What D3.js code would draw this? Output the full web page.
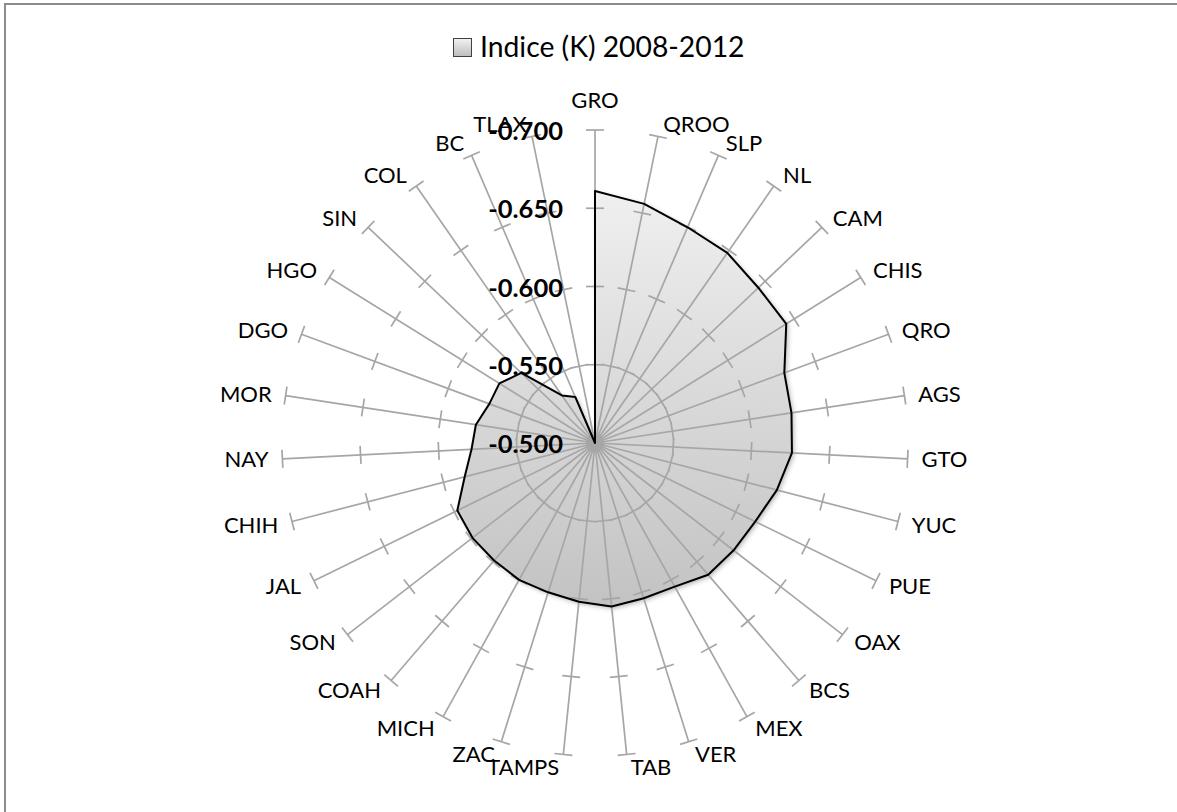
<!DOCTYPE html>
<html>
<head>
<meta charset="utf-8">
<script src="https://cdn.jsdelivr.net/npm/d3@7"></script>
<style>
  body { margin: 0; background: #fff; }
  svg { display: block; font-family: Lato, "Open Sans", sans-serif; }
</style>
</head>
<body>
<svg id="chart" width="1177" height="812"></svg>
<script>
// States, clockwise from the top
const categories = ["GRO","QROO","SLP","NL","CAM","CHIS","QRO","AGS","GTO","YUC","PUE","OAX","BCS",
  "MEX","VER","TAB","TAMPS","ZAC","MICH","COAH","SON","JAL","CHIH","NAY","MOR","DGO","HGO","SIN",
  "COL","BC","TLAX"];
// Indice (K) 2008-2012
const values = [-0.661,-0.656,-0.650,-0.648,-0.644,-0.644,-0.629,-0.627,-0.626,-0.620,-0.614,-0.612,
  -0.611,-0.605,-0.604,-0.605,-0.602,-0.600,-0.600,-0.599,-0.599,-0.598,-0.586,-0.579,-0.577,-0.572,
  -0.572,-0.565,-0.537,-0.532,-0.500];
const tickValues = [-0.500, -0.550, -0.600, -0.650, -0.700];
const tickLabels = ["-0.500", "-0.550", "-0.600", "-0.650", "-0.700"];
const seriesName = "Indice (K) 2008-2012";

const cx = 595, cy = 443, R = 313;
const n = categories.length;

const svg = d3.select("#chart");
const defs = svg.append("defs");

// vertical grey fill for the area (coordinates relative to the plot centre)
const grad = defs.append("linearGradient")
  .attr("id", "areaFill").attr("gradientUnits", "userSpaceOnUse")
  .attr("x1", 0).attr("y1", -255).attr("x2", 0).attr("y2", 168);
grad.append("stop").attr("offset", "0%").attr("stop-color", "#f0f0f0");
grad.append("stop").attr("offset", "100%").attr("stop-color", "#c2c2c2");

const keyGrad = defs.append("linearGradient")
  .attr("id", "keyFill").attr("x1", 0).attr("y1", 0).attr("x2", 0).attr("y2", 1);
keyGrad.append("stop").attr("offset", "0%").attr("stop-color", "#f2f2f2");
keyGrad.append("stop").attr("offset", "100%").attr("stop-color", "#bdbdbd");

const shadow = defs.append("filter").attr("id", "softShadow")
  .attr("x", "-10%").attr("y", "-10%").attr("width", "130%").attr("height", "130%");
shadow.append("feDropShadow").attr("dx", 2).attr("dy", 2).attr("stdDeviation", 2.5)
  .attr("flood-color", "#000").attr("flood-opacity", 0.3);

// chart frame
svg.append("rect")
  .attr("x", 5).attr("y", 4).attr("width", 1300).attr("height", 900)
  .attr("fill", "none").attr("stroke", "#8c8c8c").attr("stroke-width", 2);

// scales
const angle = d3.scaleLinear().domain([0, n]).range([0, 2 * Math.PI]);
const r = d3.scaleLinear().domain([-0.5, -0.7]).range([0, R]);

const g = svg.append("g").attr("transform", `translate(${cx},${cy})`);

// filled area
const radial = d3.lineRadial()
  .angle((d, i) => angle(i))
  .radius(d => r(d))
  .curve(d3.curveLinearClosed);

g.append("path")
  .datum(values)
  .attr("d", radial)
  .attr("fill", "url(#areaFill)")
  .attr("filter", "url(#softShadow)");

// spokes with tick marks
const axisColor = "#a6a6a6";
const spokes = g.append("g").attr("class", "spokes");
categories.forEach((c, i) => {
  const a = angle(i);
  const end = d3.pointRadial(a, R);
  spokes.append("line")
    .attr("x1", 0).attr("y1", 0).attr("x2", end[0]).attr("y2", end[1])
    .attr("stroke", axisColor).attr("stroke-width", 1.7);
  const px = Math.cos(a), py = Math.sin(a);
  tickValues.forEach(t => {
    const p = d3.pointRadial(a, r(t));
    spokes.append("line")
      .attr("x1", p[0] - 9 * px).attr("y1", p[1] - 9 * py)
      .attr("x2", p[0] + 9 * px).attr("y2", p[1] + 9 * py)
      .attr("stroke", axisColor).attr("stroke-width", 1.7);
  });
});

// outline of the area
g.append("path")
  .datum(values)
  .attr("d", radial)
  .attr("fill", "none")
  .attr("stroke", "#000")
  .attr("stroke-width", 2)
  .attr("stroke-linejoin", "round");

// category labels
const catSize = 22;
const catCap = 0.72 * catSize;
g.append("g").selectAll("text")
  .data(categories)
  .join("text")
  .attr("font-size", catSize)
  .attr("fill", "#000")
  .each(function (c, i) {
    const a = angle(i);
    const s = Math.sin(a), co = Math.cos(a);
    const end = d3.pointRadial(a, R);
    let anchor = "middle", x = end[0];
    if (s > 0.02) { anchor = "start"; x = end[0] + 3 + 11 * s; }
    else if (s < -0.02) { anchor = "end"; x = end[0] - 3 - 11 * Math.abs(s); }
    let capMid = end[1] - 13 * co;
    if (i === 0) capMid -= 17;
    d3.select(this)
      .attr("text-anchor", anchor)
      .attr("x", x)
      .attr("y", capMid + catCap / 2)
      .text(c);
  });

// value axis labels along the first spoke
g.append("g").selectAll("text")
  .data(tickValues)
  .join("text")
  .attr("x", -32)
  .attr("y", d => -r(d) + 10)
  .attr("text-anchor", "end")
  .attr("font-size", 25.5)
  .attr("font-weight", "bold")
  .attr("fill", "#000")
  .text((d, i) => tickLabels[i]);

// legend
const legend = svg.append("g").attr("transform", "translate(453,38)");
legend.append("rect")
  .attr("x", 0.5).attr("y", 0.5).attr("width", 18).attr("height", 18)
  .attr("fill", "url(#keyFill)").attr("stroke", "#404040").attr("stroke-width", 1);
legend.append("text")
  .attr("x", 27).attr("y", 18.7)
  .attr("font-size", 28.3)
  .attr("fill", "#000")
  .text(seriesName);
</script>
</body>
</html>
